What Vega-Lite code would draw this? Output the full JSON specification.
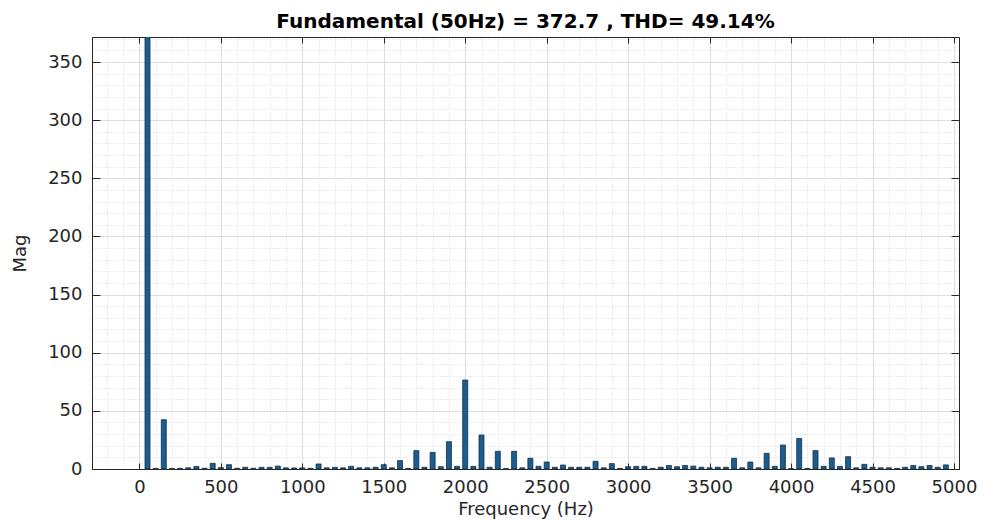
{
  "$schema": "https://vega.github.io/schema/vega-lite/v6.json",
  "width": 867,
  "height": 432,
  "autosize": "none",
  "padding": {"left": 92, "top": 37, "right": 30, "bottom": 52},
  "background": "white",
  "title": {
    "text": "Fundamental (50Hz) = 372.7 , THD= 49.14%",
    "font": "DejaVu Sans",
    "fontSize": 20,
    "fontWeight": "bold",
    "color": "#000000",
    "anchor": "middle",
    "baseline": "bottom",
    "offset": 4,
    "dy": 23
  },
  "config": {
    "view": {"stroke": null},
    "axis": {
      "labelFont": "DejaVu Sans",
      "labelFontSize": 18,
      "labelColor": "#262626",
      "titleFont": "DejaVu Sans",
      "titleFontSize": 18,
      "titleFontWeight": "normal",
      "titleColor": "#262626"
    }
  },
  "data": {
    "values": [
      {"f": 50, "mag": 372.7}, {"f": 100, "mag": 0.5}, {"f": 150, "mag": 42.4}, {"f": 200, "mag": 0.5},
      {"f": 250, "mag": 0.6}, {"f": 300, "mag": 1}, {"f": 350, "mag": 2.2}, {"f": 400, "mag": 0.6},
      {"f": 450, "mag": 4.9}, {"f": 500, "mag": 1.2}, {"f": 550, "mag": 3.7}, {"f": 600, "mag": 0.6},
      {"f": 650, "mag": 1.5}, {"f": 700, "mag": 0.6}, {"f": 750, "mag": 1.4}, {"f": 800, "mag": 1.4},
      {"f": 850, "mag": 2.5}, {"f": 900, "mag": 1}, {"f": 950, "mag": 0.9}, {"f": 1000, "mag": 1},
      {"f": 1050, "mag": 0.6}, {"f": 1100, "mag": 4.3}, {"f": 1150, "mag": 1}, {"f": 1200, "mag": 1.4},
      {"f": 1250, "mag": 1}, {"f": 1300, "mag": 2.3}, {"f": 1350, "mag": 1}, {"f": 1400, "mag": 1},
      {"f": 1450, "mag": 1.5}, {"f": 1500, "mag": 3.7}, {"f": 1550, "mag": 1}, {"f": 1600, "mag": 7.2},
      {"f": 1650, "mag": 0.5}, {"f": 1700, "mag": 15.8}, {"f": 1750, "mag": 1.5}, {"f": 1800, "mag": 14.3},
      {"f": 1850, "mag": 2}, {"f": 1900, "mag": 23.5}, {"f": 1950, "mag": 2.3}, {"f": 2000, "mag": 76.5},
      {"f": 2050, "mag": 2.3}, {"f": 2100, "mag": 29.2}, {"f": 2150, "mag": 1.5}, {"f": 2200, "mag": 15.2},
      {"f": 2250, "mag": 0.3}, {"f": 2300, "mag": 15.2}, {"f": 2350, "mag": 1}, {"f": 2400, "mag": 9.2},
      {"f": 2450, "mag": 2.3}, {"f": 2500, "mag": 6}, {"f": 2550, "mag": 1.5}, {"f": 2600, "mag": 3.4},
      {"f": 2650, "mag": 1.5}, {"f": 2700, "mag": 1.5}, {"f": 2750, "mag": 1.5}, {"f": 2800, "mag": 6.6},
      {"f": 2850, "mag": 1}, {"f": 2900, "mag": 4.6}, {"f": 2950, "mag": 0.5}, {"f": 3000, "mag": 2},
      {"f": 3050, "mag": 2.3}, {"f": 3100, "mag": 2.3}, {"f": 3150, "mag": 0.5}, {"f": 3200, "mag": 1.5},
      {"f": 3250, "mag": 3}, {"f": 3300, "mag": 2}, {"f": 3350, "mag": 3}, {"f": 3400, "mag": 2.5},
      {"f": 3450, "mag": 1.5}, {"f": 3500, "mag": 1}, {"f": 3550, "mag": 1.5}, {"f": 3600, "mag": 1.5},
      {"f": 3650, "mag": 9.2}, {"f": 3700, "mag": 1}, {"f": 3750, "mag": 6}, {"f": 3800, "mag": 1},
      {"f": 3850, "mag": 13.5}, {"f": 3900, "mag": 2.3}, {"f": 3950, "mag": 20.6}, {"f": 4000, "mag": 0.3},
      {"f": 4050, "mag": 26.3}, {"f": 4100, "mag": 0.5}, {"f": 4150, "mag": 15.8}, {"f": 4200, "mag": 2.3},
      {"f": 4250, "mag": 9.5}, {"f": 4300, "mag": 2.3}, {"f": 4350, "mag": 10.6}, {"f": 4400, "mag": 1},
      {"f": 4450, "mag": 4}, {"f": 4500, "mag": 1.5}, {"f": 4550, "mag": 1}, {"f": 4600, "mag": 1},
      {"f": 4650, "mag": 0.5}, {"f": 4700, "mag": 1.5}, {"f": 4750, "mag": 3}, {"f": 4800, "mag": 2},
      {"f": 4850, "mag": 3}, {"f": 4900, "mag": 1.5}, {"f": 4950, "mag": 3.5}
    ]
  },
  "resolve": {"axis": {"x": "independent", "y": "independent"}},
  "layer": [
    {
      "mark": {"type": "point", "opacity": 0},
      "encoding": {
        "x": {"field": "f", "type": "quantitative", "scale": {"domain": [-260, 5000], "nice": false, "zero": false},
          "axis": {"orient": "bottom", "values": [-200,-100,0,100,200,300,400,500,600,700,800,900,1000,1100,1200,1300,1400,1500,1600,1700,1800,1900,2000,2100,2200,2300,2400,2500,2600,2700,2800,2900,3000,3100,3200,3300,3400,3500,3600,3700,3800,3900,4000,4100,4200,4300,4400,4500,4600,4700,4800,4900],
            "grid": true, "gridDash": [1, 2], "gridColor": "#d9d9d9", "gridWidth": 1, "labels": false, "ticks": false, "domain": false, "title": null}},
        "y": {"field": "mag", "type": "quantitative", "scale": {"domain": [0, 371.5], "nice": false},
          "axis": {"orient": "left", "values": [10,20,30,40,60,70,80,90,110,120,130,140,160,170,180,190,210,220,230,240,260,270,280,290,310,320,330,340,360,370],
            "grid": true, "gridDash": [1, 2], "gridColor": "#d9d9d9", "gridWidth": 1, "labels": false, "ticks": false, "domain": false, "title": null}}
      }
    },
    {
      "mark": {"type": "bar", "size": 5, "fill": "#1c5d8f", "stroke": "#10304a", "strokeWidth": 0.8, "clip": true},
      "encoding": {
        "x": {"field": "f", "type": "quantitative",
          "axis": {"orient": "bottom", "values": [0,500,1000,1500,2000,2500,3000,3500,4000,4500,5000], "format": "d",
            "grid": true, "gridColor": "#dedede", "gridWidth": 1, "ticks": false, "domain": false,
            "labelPadding": 9, "title": "Frequency (Hz)", "titlePadding": 4, "labelFlush": false}},
        "y": {"field": "mag", "type": "quantitative",
          "axis": {"orient": "left", "values": [0,50,100,150,200,250,300,350], "format": "d",
            "grid": true, "gridColor": "#dedede", "gridWidth": 1, "ticks": false, "domain": false,
            "labelPadding": 10, "title": "Mag", "titlePadding": 18}}
      }
    },
    {
      "mark": {"type": "point", "opacity": 0},
      "encoding": {
        "x": {"field": "f", "type": "quantitative",
          "axis": {"orient": "bottom", "values": [0,500,1000,1500,2000,2500,3000,3500,4000,4500,5000],
            "grid": false, "labels": false, "ticks": true, "tickSize": -6, "tickColor": "#262626", "domain": true, "domainColor": "#262626", "title": null}},
        "y": {"field": "mag", "type": "quantitative",
          "axis": {"orient": "left", "values": [0,50,100,150,200,250,300,350],
            "grid": false, "labels": false, "ticks": true, "tickSize": -8, "tickColor": "#262626", "domain": true, "domainColor": "#262626", "title": null}}
      }
    },
    {
      "mark": {"type": "point", "opacity": 0},
      "encoding": {
        "x": {"field": "f", "type": "quantitative",
          "axis": {"orient": "top", "values": [0,500,1000,1500,2000,2500,3000,3500,4000,4500,5000],
            "grid": false, "labels": false, "ticks": true, "tickSize": -6, "tickColor": "#262626", "domain": true, "domainColor": "#262626", "title": null}},
        "y": {"field": "mag", "type": "quantitative",
          "axis": {"orient": "right", "values": [0,50,100,150,200,250,300,350],
            "grid": false, "labels": false, "ticks": true, "tickSize": -8, "tickColor": "#262626", "domain": true, "domainColor": "#262626", "title": null}}
      }
    }
  ]
}
